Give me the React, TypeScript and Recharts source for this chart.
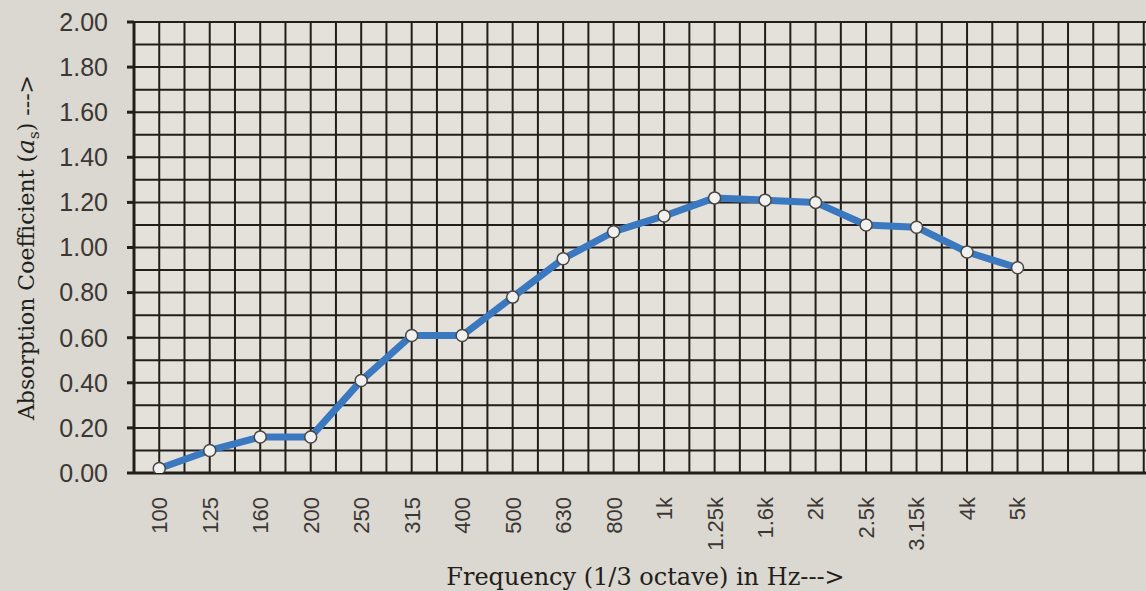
import React from "react";
import { LineChart, Line, XAxis, YAxis, CartesianGrid, Label } from "recharts";

// 1/3 octave bands
const freqLabels = ["100", "125", "160", "200", "250", "315", "400", "500", "630", "800", "1k", "1.25k", "1.6k", "2k", "2.5k", "3.15k", "4k", "5k"];
const absorption = [0.02, 0.1, 0.16, 0.16, 0.41, 0.61, 0.61, 0.78, 0.95, 1.07, 1.14, 1.22, 1.21, 1.2, 1.1, 1.09, 0.98, 0.91];
const yTicks = [0, 0.2, 0.4, 0.6, 0.8, 1.0, 1.2, 1.4, 1.6, 1.8, 2.0];

const X_DOMAIN: [number, number] = [-0.5, 20];
const Y_DOMAIN: [number, number] = [0, 2];
const INK = "#221e1a";
const TEXT = "#3b3834";

const data = freqLabels.map((freq, i) => ({ idx: i, freq, value: absorption[i] }));
const labelTicks = freqLabels.map((_, i) => i);
// graph paper: a line on every band edge and band centre, and every 0.1 up the side
const gridXTicks = Array.from({ length: 42 }, (_, i) => -0.5 + i * 0.5);
const gridYTicks = Array.from({ length: 21 }, (_, i) => i / 10);

function FreqTick(props: any) {
  const { x, y, payload } = props;
  const ty = y + 16;
  return (
    <text
      x={x}
      y={ty}
      dy="0.36em"
      transform={`rotate(-90, ${x}, ${ty})`}
      textAnchor="end"
      fill={TEXT}
      fontSize={22}
      fontFamily="Liberation Sans, Arial, sans-serif"
    >
      {freqLabels[payload.value]}
    </text>
  );
}

function XTitle(props: any) {
  const { viewBox } = props;
  const cx = viewBox.x + viewBox.width / 2 - 6;
  return (
    <text x={cx} y={585} textAnchor="middle" fill={INK} fontSize={24} fontFamily="DejaVu Serif, serif">
      Frequency (1/3 octave) in Hz---&gt;
    </text>
  );
}

function YTitle(props: any) {
  const { viewBox } = props;
  const cy = viewBox.y + viewBox.height / 2;
  const x = 34;
  return (
    <text
      x={x}
      y={cy}
      transform={`rotate(-90, ${x}, ${cy})`}
      textAnchor="middle"
      fill={INK}
      fontSize={22}
      fontFamily="DejaVu Serif, serif"
    >
      Absorption Coefficient (<tspan fontStyle="italic" fontSize={25}>a</tspan>
      <tspan dy={5} fontSize={15}>s</tspan>
      <tspan dy={-5}>) ---&gt;</tspan>
    </text>
  );
}

export default function App() {
  return (
    <div
      style={{
        position: "absolute",
        left: 0,
        top: 0,
        width: 1146,
        height: 591,
        overflow: "hidden",
        background: "#dbd7d1",
        fontFamily: "Liberation Sans, Arial, sans-serif",
      }}
    >
      <LineChart width={1170} height={591} data={data} margin={{ top: 22, right: 1, bottom: 0, left: 0 }}>
        <CartesianGrid xAxisId="g" yAxisId="g" stroke={INK} strokeWidth={2} fill="#e4e0da" fillOpacity={1} />
        <XAxis xAxisId="g" dataKey="idx" type="number" domain={X_DOMAIN} ticks={gridXTicks} interval={0} allowDataOverflow hide />
        <YAxis yAxisId="g" type="number" domain={Y_DOMAIN} ticks={gridYTicks} interval={0} allowDataOverflow hide />
        <XAxis
          dataKey="idx"
          type="number"
          domain={X_DOMAIN}
          ticks={labelTicks}
          interval={0}
          allowDataOverflow
          height={118}
          tickLine={false}
          axisLine={{ stroke: INK, strokeWidth: 3 }}
          tick={<FreqTick />}
        >
          <Label content={<XTitle />} />
        </XAxis>
        <YAxis
          type="number"
          domain={Y_DOMAIN}
          ticks={yTicks}
          interval={0}
          allowDataOverflow
          width={134}
          tickSize={7}
          tickMargin={19}
          tickFormatter={(v: number) => v.toFixed(2)}
          axisLine={{ stroke: INK, strokeWidth: 3 }}
          tickLine={{ stroke: INK, strokeWidth: 3 }}
          tick={{ fill: TEXT, fontSize: 25, fontFamily: "Liberation Sans, Arial, sans-serif" }}
        >
          <Label content={<YTitle />} />
        </YAxis>
        <Line
          dataKey="value"
          stroke="#3a78c0"
          strokeWidth={7}
          strokeLinejoin="round"
          dot={{ r: 6, fill: "#f1f1ef", stroke: "#4a4744", strokeWidth: 1.5 }}
          isAnimationActive={false}
        />
      </LineChart>
    </div>
  );
}
